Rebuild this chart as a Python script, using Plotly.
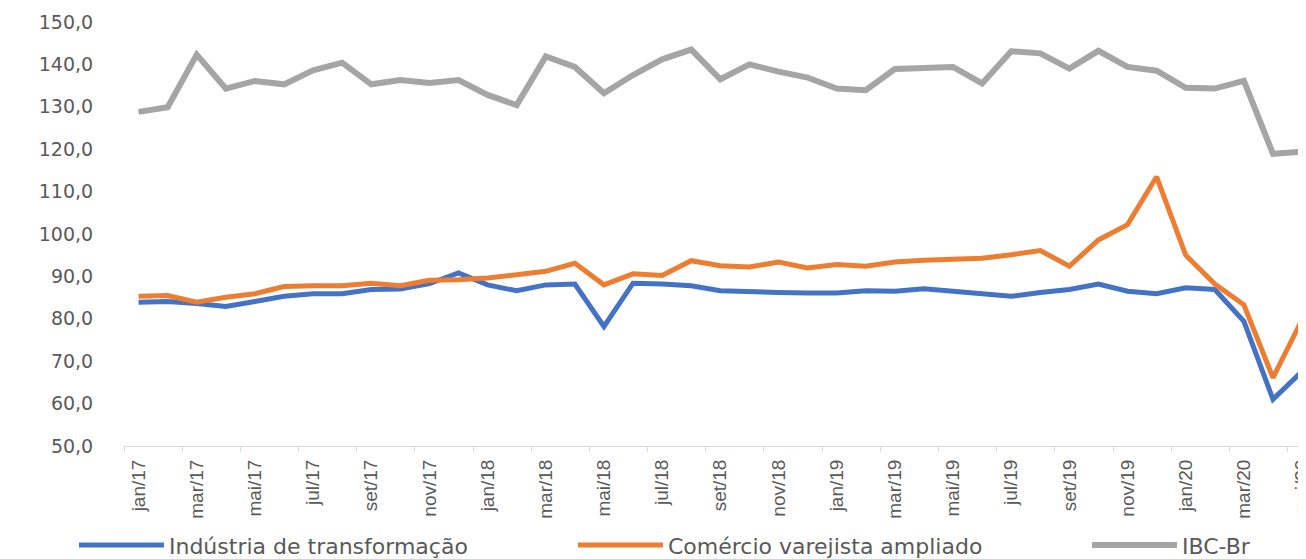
import plotly.graph_objects as go

# monthly labels jan/17 .. mai/20
month_names = ["jan", "fev", "mar", "abr", "mai", "jun",
               "jul", "ago", "set", "out", "nov", "dez"]
months = [f"{m}/{y}" for y in ("17", "18", "19", "20") for m in month_names][:41]

industria = [83.9, 84.1, 83.6, 82.9, 84.1, 85.3, 85.9, 85.9, 86.9, 87.0,
             88.3, 90.8, 88.0, 86.6, 88.0, 88.2, 78.2, 88.4, 88.2, 87.8,
             86.6, 86.3, 86.2, 86.1, 86.1, 86.6, 86.5, 87.1, 86.5, 85.9,
             85.3, 86.2, 86.9, 88.2, 86.5, 85.9, 87.3, 86.9, 79.4, 61.0,
             67.6]
comercio = [85.3, 85.5, 83.9, 85.1, 85.9, 87.6, 87.8, 87.8, 88.4, 87.8,
            89.1, 89.2, 89.6, 90.4, 91.2, 93.1, 88.0, 90.6, 90.2, 93.7,
            92.5, 92.2, 93.4, 92.0, 92.8, 92.4, 93.4, 93.8, 94.1, 94.3,
            95.1, 96.1, 92.4, 98.6, 102.2, 113.5, 95.0, 88.2, 83.3, 66.1,
            79.8]
ibc_br = [128.8, 129.9, 142.3, 134.3, 136.1, 135.3, 138.6, 140.4, 135.3, 136.3,
          135.6, 136.3, 132.8, 130.4, 141.9, 139.4, 133.2, 137.5, 141.2, 143.5,
          136.5, 140.0, 138.3, 136.9, 134.3, 133.9, 138.9, 139.0, 139.4, 135.5,
          143.1, 142.6, 139.0, 143.2, 139.4, 138.5, 134.5, 134.3, 136.1, 118.9,
          119.4]

# name, values, colour, line width, legend id, legend x (container fraction)
series = [
    ("Indústria de transformação", industria, "#4472C4", 5, "legend", 0.0505),
    ("Comércio varejista ampliado", comercio, "#ED7D31", 5, "legend2", 0.4326),
    ("IBC-Br", ibc_br, "#A5A5A5", 6, "legend3", 0.8262),
]

text_grey = "#595959"
idx = list(range(len(months)))
fig = go.Figure()
legends = {}
for name, values, color, width, leg, leg_x in series:
    fig.add_trace(go.Scatter(
        x=idx, y=values, mode="lines", name=name, legend=leg,
        line={"color": color, "width": width},
    ))
    legends[leg] = {
        "orientation": "h", "xref": "container", "x": leg_x, "xanchor": "left",
        "yref": "container", "y": 0.039, "yanchor": "middle",
        "bgcolor": "rgba(0,0,0,0)",
        "font": {"family": "DejaVu Sans", "size": 22, "color": text_grey},
        "itemwidth": 85,
    }

fig.update_layout(
    width=1306, height=559,
    margin={"l": 116, "r": 0, "t": 14, "b": 121, "autoexpand": False},
    plot_bgcolor="white", paper_bgcolor="white",
    separators=",.",
    showlegend=True,
    **legends,
)
fig.update_xaxes(
    range=[-0.5, 40.41],
    tickmode="array", tickvals=idx[::2], ticktext=months[::2],
    tickangle=-90, ticks="", ticklabelstandoff=5,
    tickfont={"family": "Liberation Sans Narrow, Arial Narrow, sans-serif",
              "size": 19, "color": text_grey},
    minor={"tickmode": "linear", "tick0": -0.5, "dtick": 2,
           "ticks": "outside", "ticklen": 5, "tickcolor": "#D9D9D9"},
    showline=True, linecolor="#D9D9D9", linewidth=1,
    showgrid=False, zeroline=False,
)
fig.update_yaxes(
    range=[50, 150], dtick=10, tickformat=".1f",
    ticks="outside", ticklen=26, tickcolor="rgba(0,0,0,0)",
    tickfont={"family": "DejaVu Sans", "size": 19, "color": text_grey},
    showline=False, showgrid=False, zeroline=False,
)

fig.write_html("out.html")
